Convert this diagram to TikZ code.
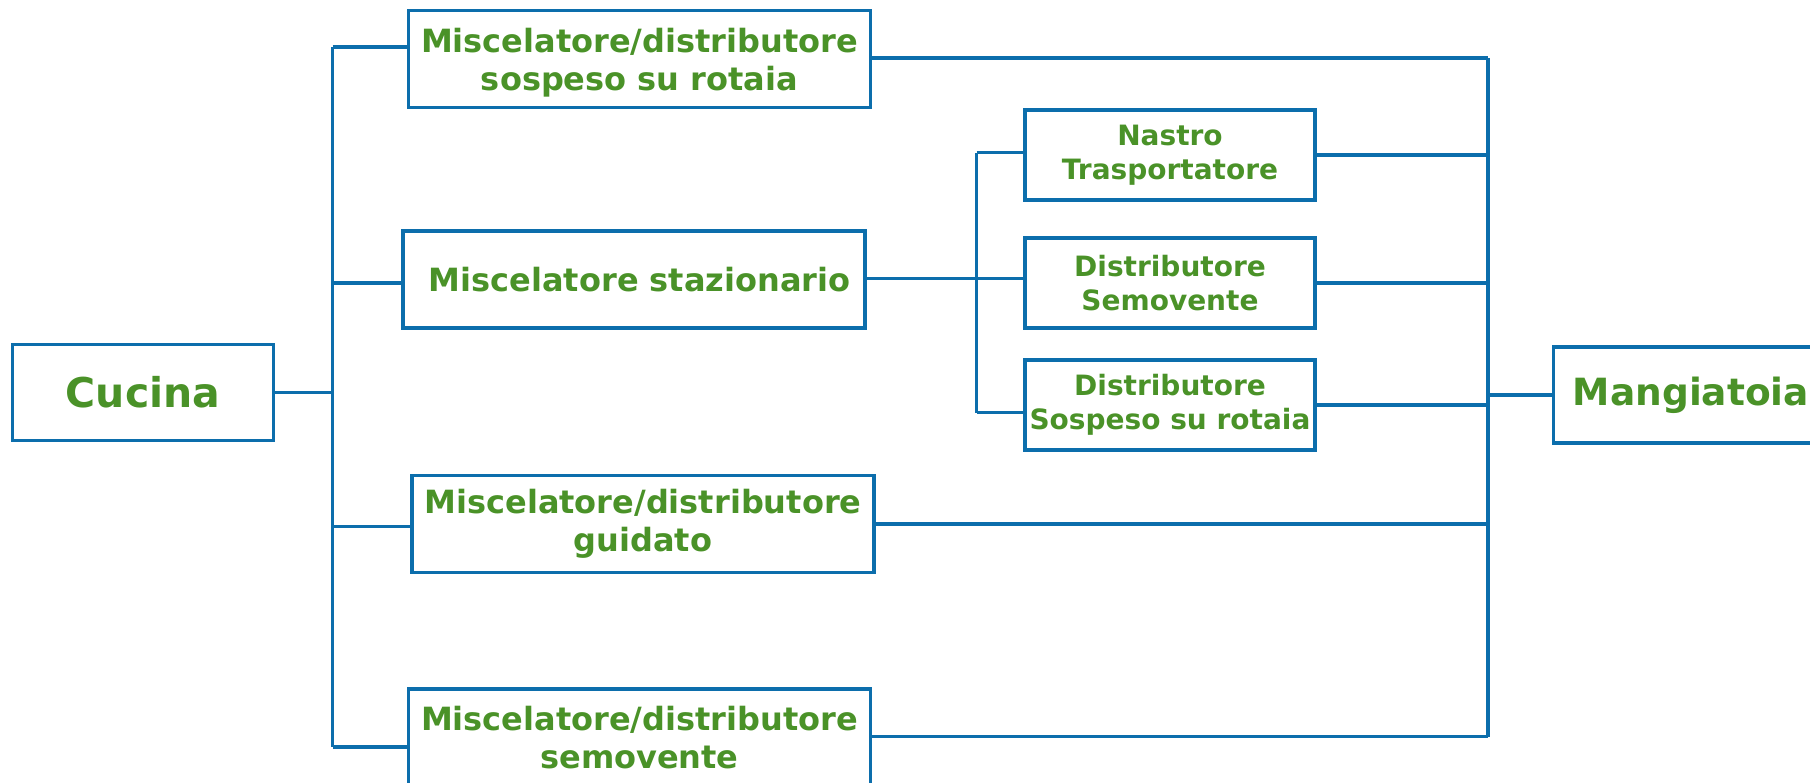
\documentclass[tikz,border=0pt]{standalone}
\usepackage{fontspec}
\setmainfont{DejaVu Sans}
\usetikzlibrary{positioning}
\definecolor{lineblue}{RGB}{12,110,172}
\definecolor{textgreen}{RGB}{74,146,40}

\begin{document}
\begin{tikzpicture}[x=1pt,y=-1pt,
    box/.style={draw=lineblue,line width=3.8pt,rectangle,align=center,
        text=textgreen,font=\fontsize{32}{38}\selectfont\bfseries,
        minimum width=462pt,minimum height=97pt,inner sep=0pt},
    smallbox/.style={box,font=\fontsize{28}{34}\selectfont\bfseries,
        minimum width=290pt,minimum height=90pt},
    endbox/.style={box,font=\fontsize{41}{48}\selectfont\bfseries,
        minimum height=96pt},
    link/.style={draw=lineblue,line width=3.5pt}]

\useasboundingbox (0,0) rectangle (1810,783);

%start and end
\node[endbox,minimum width=261pt] (cucina) at (143,392.5) {Cucina};
\node[endbox,minimum width=275pt,font=\fontsize{37.5}{44}\selectfont\bfseries]
    (mangiatoia) at (1691,395) {Mangiatoia};

%mixers
\node[box] (sospeso) at (639.5,59)
    {\raisebox{-5pt}[\height][\depth]{\begin{tabular}{@{}c@{}}Miscelatore/distributore\\sospeso su rotaia\end{tabular}}};
\node[box] (stazionario) at (633.7,279.4) {\hspace*{12pt}Miscelatore stazionario};
\node[box] (guidato) at (643,524) {Miscelatore/distributore\\guidato};
\node[box] (semovente) at (639.5,737.5) {Miscelatore/distributore\\semovente};

%after the stationary mixer
\node[smallbox] (nastro) at (1170,155) {Nastro\\Trasportatore};
\node[smallbox] (distsem) at (1170,283) {Distributore\\Semovente};
\node[smallbox] (distsosp) at (1170,405) {Distributore\\Sospeso su rotaia};

%left trunk
\coordinate (lt1) at (332.5,47);
\coordinate (lt2) at (332.5,282.8);
\coordinate (lt3) at (332.5,526.4);
\coordinate (lt4) at (332.5,747);
\draw[link] (lt1) -- (lt4);
\draw[link] (cucina.east) -- (cucina.east -| lt1);
\draw[link] (lt1) -- (lt1 -| sospeso.west);
\draw[link] (lt2) -- (lt2 -| stazionario.west);
\draw[link] (lt3) -- (lt3 -| guidato.west);
\draw[link] (lt4) -- (lt4 -| semovente.west);

%middle trunk
\coordinate (mt1) at (976.5,152.7);
\coordinate (mt2) at (976.5,278.3);
\coordinate (mt3) at (976.5,412.7);
\draw[link] (mt1) -- (mt3);
\draw[link] (mt1) -- (mt1 -| nastro.west);
\draw[link] (stazionario.east |- mt2) -- (mt2 -| distsem.west);
\draw[link] (mt3) -- (mt3 -| distsosp.west);

%right trunk
\coordinate (rt1) at (1488,58);
\coordinate (rt2) at (1488,736.7);
\draw[link] (rt1) -- (rt2);
\draw[link] (sospeso.east |- rt1) -- (rt1);
\draw[link] (nastro.east) -- (nastro.east -| rt1);
\draw[link] (distsem.east) -- (distsem.east -| rt1);
\draw[link] (distsosp.east) -- (distsosp.east -| rt1);
\draw[link] (guidato.east) -- (guidato.east -| rt1);
\draw[link] (semovente.east |- rt2) -- (rt2);
\draw[link] (mangiatoia.west) -- (mangiatoia.west -| rt1);

\end{tikzpicture}
\end{document}
